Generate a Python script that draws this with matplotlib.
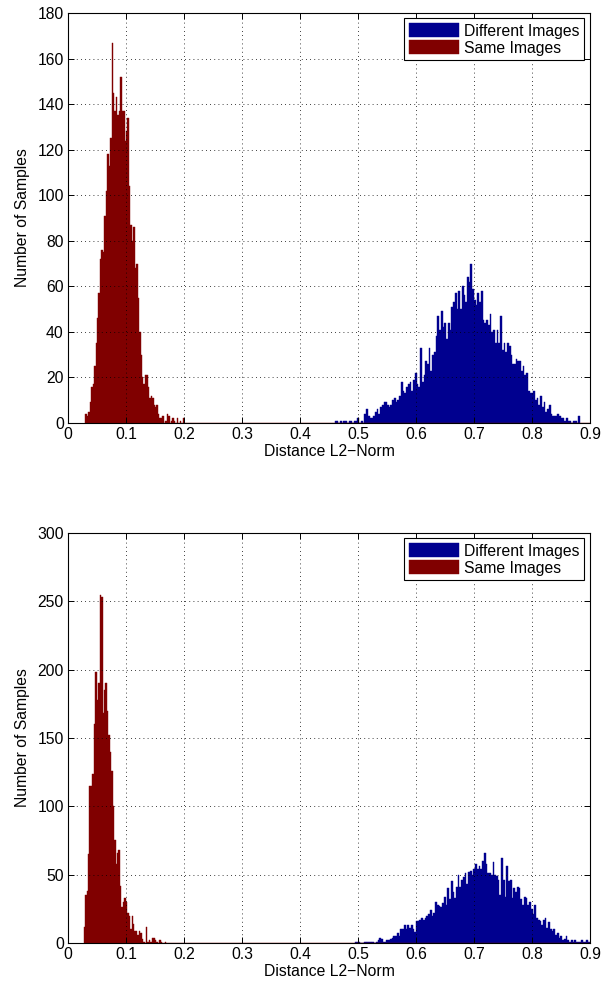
import matplotlib
matplotlib.use("Agg")
import matplotlib.pyplot as plt
import numpy as np

plt.rcParams['font.family'] = ['Liberation Sans', 'DejaVu Sans']

# top panel: histogram counts
same_top_start, same_top_width = 0.030, 0.0025
same_top = [4, 3, 5, 9, 16, 17, 25, 35, 46, 57, 72, 76, 75, 91, 102, 118, 113, 125, 167, 145,
            137, 143, 135, 137, 152, 137, 137, 124, 128, 134, 104, 87, 80, 86, 68, 70, 55, 40, 30, 20,
            17, 21, 21, 16, 11, 12, 11, 8, 7, 8, 4, 2, 2, 3, 0, 1, 4, 3, 0, 1,
            2, 1, 0, 2, 0, 1, 0, 2]
diff_top_start, diff_top_width = 0.460, 0.003
diff_top = [1, 1, 0, 1, 0, 1, 1, 0, 1, 1, 0, 1, 1, 2, 0, 1, 0, 4, 6, 3,
            2, 2, 3, 5, 6, 4, 7, 8, 9, 9, 8, 7, 8, 10, 11, 9, 10, 12, 18, 14,
            13, 16, 17, 18, 14, 19, 22, 17, 16, 33, 18, 21, 27, 26, 33, 23, 30, 31, 38, 47,
            41, 49, 42, 44, 37, 44, 41, 51, 53, 57, 50, 58, 50, 60, 56, 53, 64, 62, 70, 59,
            54, 52, 57, 53, 58, 45, 44, 45, 43, 48, 40, 41, 35, 41, 35, 47, 32, 35, 31, 35,
            34, 30, 26, 26, 28, 27, 27, 23, 25, 21, 22, 14, 13, 13, 14, 10, 11, 8, 12, 7,
            9, 5, 6, 8, 4, 3, 3, 3, 4, 3, 2, 2, 1, 2, 1, 1, 0, 1, 1, 0, 3]

# bottom panel
same_bot_start, same_bot_width = 0.027, 0.0025
same_bot = [12, 35, 38, 65, 115, 115, 124, 160, 198, 178, 190, 255, 253, 168, 185, 190, 170, 152, 140, 126,
            100, 75, 58, 66, 68, 42, 26, 30, 33, 30, 22, 20, 10, 20, 14, 9, 9, 6, 9, 7,
            3, 1, 0, 12, 1, 2, 1, 4, 4, 2, 1, 0, 2, 1, 0, 0, 1]
diff_bot_start, diff_bot_width = 0.495, 0.003
diff_bot = [1, 1, 1, 0, 0, 1, 1, 1, 1, 1, 1, 0, 1, 2, 4, 3, 1, 1, 2, 2,
            3, 4, 5, 5, 7, 5, 10, 10, 13, 10, 13, 11, 13, 10, 8, 16, 16, 17, 18, 17,
            18, 20, 21, 24, 20, 22, 30, 28, 27, 26, 29, 34, 28, 40, 32, 45, 37, 33, 41, 50,
            41, 46, 48, 51, 43, 52, 53, 50, 54, 58, 54, 56, 54, 60, 66, 58, 51, 51, 50, 59,
            50, 49, 46, 35, 62, 46, 34, 56, 45, 46, 33, 40, 37, 41, 40, 32, 28, 34, 33, 28,
            30, 25, 21, 28, 18, 17, 16, 13, 17, 18, 11, 15, 10, 9, 10, 6, 7, 4, 5, 2,
            3, 5, 2, 1, 2, 1, 2, 1, 1, 1, 2, 1, 1, 2, 1]

x_ticks = [0, 0.1, 0.2, 0.3, 0.4, 0.5, 0.6, 0.7, 0.8, 0.9]
x_tick_labels = ['0', '0.1', '0.2', '0.3', '0.4', '0.5', '0.6', '0.7', '0.8', '0.9']
y_ticks_top = [0, 20, 40, 60, 80, 100, 120, 140, 160, 180]
y_ticks_bot = [0, 50, 100, 150, 200, 250, 300]

blue = '#00008f'
red = '#800000'
fs = 11.3


def draw(ax, same_start, same_w, same, diff_start, diff_w, diff, yticks):
    d = np.array(diff, dtype=float)
    dx = diff_start + diff_w * np.arange(len(d))
    ax.bar(dx, d, width=diff_w, align='edge', color=blue, edgecolor=blue,
           linewidth=0.3, label='Different Images')
    # red series continues with empty bins up to 0.9 (drawn as baseline)
    s = np.array(same, dtype=float)
    n_total = int(round((0.9 - same_start) / same_w))
    s = np.concatenate([s, np.zeros(n_total - len(s))])
    sx = same_start + same_w * np.arange(len(s))
    ax.bar(sx, s, width=same_w, align='edge', color=red, edgecolor=red,
           linewidth=0.3, label='Same Images')
    ax.set_xlim(0, 0.9)
    ax.set_ylim(yticks[0], yticks[-1])
    ax.set_xticks(x_ticks)
    ax.set_xticklabels(x_tick_labels)
    ax.set_yticks(yticks)
    ax.grid(True, linestyle=(0, (1, 4)), color='black', linewidth=0.6)
    ax.set_axisbelow(False)
    ax.tick_params(direction='in', top=True, right=True, length=4, labelsize=fs, width=0.7, pad=3)
    for sp in ax.spines.values():
        sp.set_linewidth(0.8)
    ax.set_xlabel('Distance L2\u2212Norm', fontsize=fs, labelpad=1)
    ax.set_ylabel('Number of Samples', fontsize=fs, labelpad=5)
    leg = ax.legend(loc='upper right', fontsize=fs, fancybox=False, framealpha=1,
                    edgecolor='black', handlelength=3.2, handleheight=1.0,
                    borderaxespad=0.35, handletextpad=0.35, borderpad=0.3, labelspacing=0.1)
    leg.get_frame().set_linewidth(0.8)


fig = plt.figure(figsize=(6.02, 9.92), dpi=100)
ax1 = fig.add_axes([0.113, 0.5736, 0.867, 0.4133])
ax2 = fig.add_axes([0.113, 0.0494, 0.867, 0.4133])
draw(ax1, same_top_start, same_top_width, same_top, diff_top_start, diff_top_width, diff_top, y_ticks_top)
draw(ax2, same_bot_start, same_bot_width, same_bot, diff_bot_start, diff_bot_width, diff_bot, y_ticks_bot)

fig.savefig('out.png', dpi=100)
